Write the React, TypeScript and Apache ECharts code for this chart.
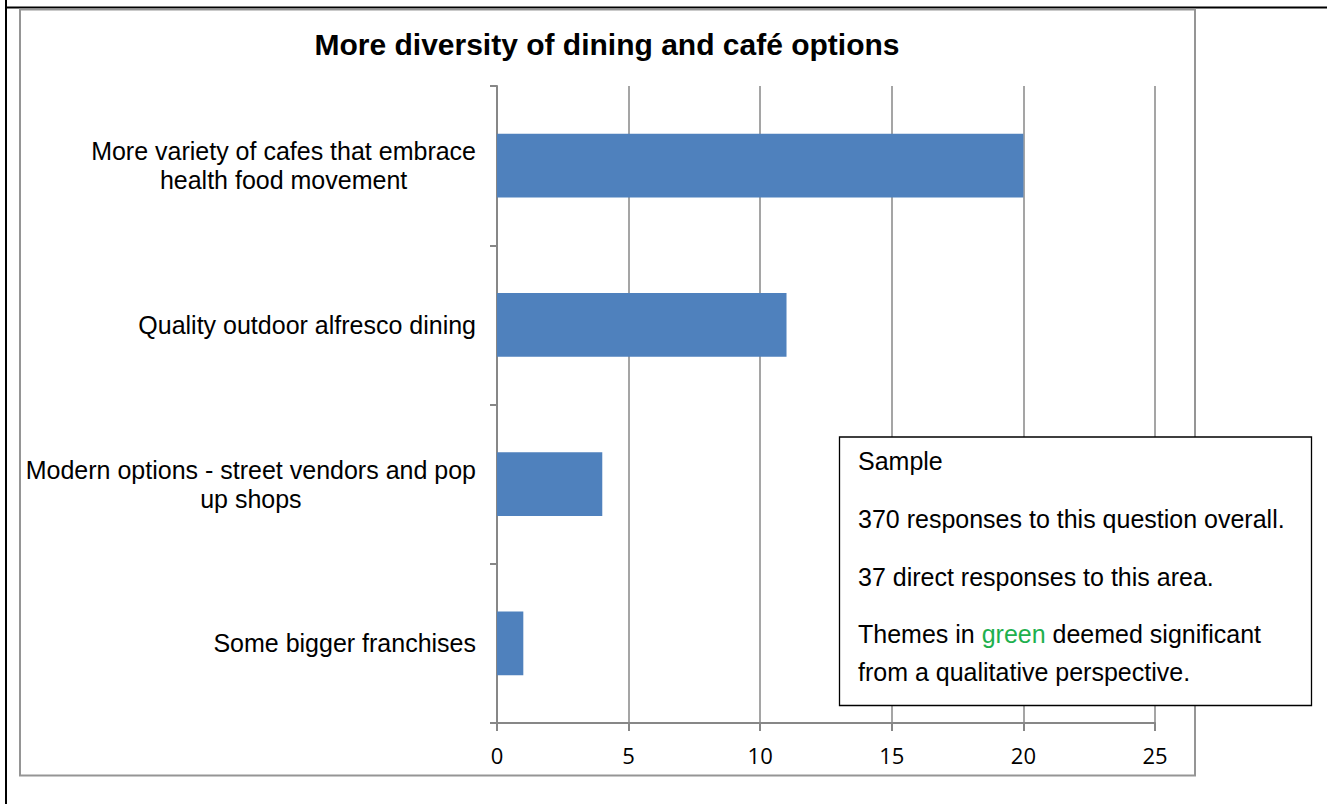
import React, { useEffect, useRef } from "react";
import * as echarts from "echarts";

const title = "More diversity of dining and café options";
const categories = [
  "Some bigger franchises",
  "Modern options - street vendors and pop\nup shops",
  "Quality outdoor alfresco dining",
  "More variety of cafes that embrace\nhealth food movement",
];
const values = [1, 4, 11, 20];
const xMin = 0;
const xMax = 25;
const xInterval = 5;

const noteHeading = "Sample";
const noteLine1 = "370 responses to this question overall.";
const noteLine2 = "37 direct responses to this area.";
const noteThemesPre = "Themes in ";
const noteThemesGreen = "green";
const noteThemesPost = " deemed significant";
const noteLast = "from a qualitative perspective.";

const GREY = "#878787";
const FONT = "'Liberation Sans', Arial, Helvetica, sans-serif";

export default function App() {
  const ref = useRef<HTMLDivElement>(null);
  useEffect(() => {
    if (!ref.current) return;
    const chart = echarts.init(ref.current, undefined, { renderer: "svg" });
    const noteText = {
      fontFamily: FONT,
      fontSize: 25,
      fill: "#000",
      align: "left",
      verticalAlign: "middle",
    };
    chart.setOption({
      animation: false,
      backgroundColor: "#fff",
      grid: { left: 497, right: 172, top: 86, bottom: 81, containLabel: false },
      xAxis: {
        type: "value",
        min: xMin,
        max: xMax,
        interval: xInterval,
        axisLine: { show: true, lineStyle: { color: GREY, width: 2 } },
        axisTick: { show: true, length: 8, lineStyle: { color: GREY, width: 2 } },
        axisLabel: {
          margin: 21,
          fontFamily: "'Open Sans', sans-serif",
          fontSize: 22,
          color: "#000",
        },
        splitLine: { show: true, lineStyle: { color: GREY, width: 1.5 } },
      },
      yAxis: {
        type: "category",
        data: categories,
        axisLine: { show: true, lineStyle: { color: GREY, width: 2 } },
        axisTick: { show: true, length: 7, lineStyle: { color: GREY, width: 2 } },
        axisLabel: {
          margin: 21,
          align: "right",
          formatter: (v: string) =>
            v
              .split("\n")
              .map((s) => `{c|${s}}`)
              .join("\n"),
          rich: {
            c: {
              align: "center",
              fontFamily: FONT,
              fontSize: 25,
              lineHeight: 29,
              color: "#000",
            },
          },
        },
        splitLine: { show: false },
      },
      series: [
        {
          type: "bar",
          data: values,
          barWidth: "40%",
          itemStyle: { color: "#4F81BD" },
        },
      ],
      graphic: [
        {
          type: "line",
          shape: { x1: 6, y1: 0, x2: 6, y2: 804 },
          style: { stroke: "#000", lineWidth: 2 },
          z: 100,
        },
        {
          type: "line",
          shape: { x1: 5, y1: 7.4, x2: 1327, y2: 7.4 },
          style: { stroke: "#000", lineWidth: 2 },
          z: 100,
        },
        {
          type: "rect",
          shape: { x: 20, y: 9.5, width: 1175, height: 766 },
          style: { fill: "none", stroke: "#959595", lineWidth: 2 },
          z: 100,
        },
        {
          type: "text",
          x: 607,
          y: 44.5,
          style: {
            text: title,
            fontFamily: FONT,
            fontSize: 30,
            fontWeight: "bold",
            fill: "#000",
            align: "center",
            verticalAlign: "middle",
          },
          z: 100,
        },
        {
          type: "rect",
          shape: { x: 839.5, y: 437, width: 472, height: 268.5 },
          style: { fill: "#fff", stroke: "#000", lineWidth: 1.3 },
          z: 100,
        },
        {
          type: "text",
          x: 858,
          y: 461.3,
          style: { ...noteText, text: noteHeading },
          z: 101,
        },
        {
          type: "text",
          x: 858,
          y: 519.3,
          style: { ...noteText, text: noteLine1 },
          z: 101,
        },
        {
          type: "text",
          x: 858,
          y: 577,
          style: { ...noteText, text: noteLine2 },
          z: 101,
        },
        {
          type: "text",
          x: 858,
          y: 634,
          style: {
            ...noteText,
            text: `{a|${noteThemesPre}}{g|${noteThemesGreen}}{a|${noteThemesPost}}`,
            rich: {
              a: { fontFamily: FONT, fontSize: 25, fill: "#000", color: "#000" },
              g: { fontFamily: FONT, fontSize: 25, fill: "#1EB04E", color: "#1EB04E" },
            },
          },
          z: 101,
        },
        {
          type: "text",
          x: 858,
          y: 672,
          style: { ...noteText, text: noteLast },
          z: 101,
        },
      ],
    });
    return () => chart.dispose();
  }, []);
  return (
    <div
      ref={ref}
      style={{ position: "fixed", left: 0, top: 0, width: 1327, height: 804, background: "#fff" }}
    />
  );
}
